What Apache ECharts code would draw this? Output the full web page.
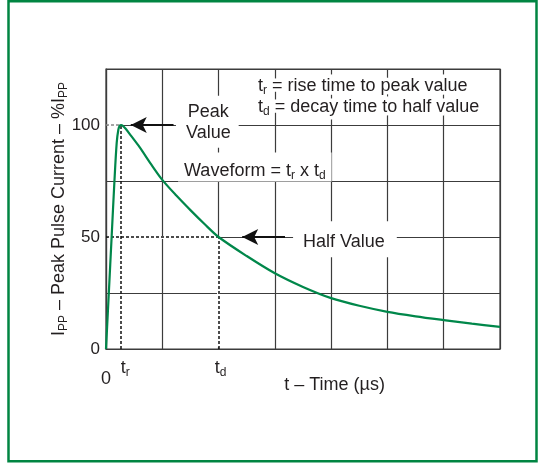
<!DOCTYPE html>
<html>
<head>
<meta charset="utf-8">
<script src="https://cdn.jsdelivr.net/npm/echarts@6/dist/echarts.min.js"></script>
<style>
html,body{margin:0;padding:0;background:#fff;}
#chart{width:543px;height:463px;}
</style>
</head>
<body>
<div id="chart"></div>
<script>
// ---- data ----
const timeUs =     [0, 0.05, 0.1, 0.15, 0.19, 0.22, 0.245, 0.27, 0.3, 0.35, 0.45, 0.6, 0.8, 1.0, 1.25, 1.5, 1.75, 2.0, 2.5, 3.0, 3.5, 4.0, 4.5, 5.0, 5.5, 6.0, 6.5, 7.0];
const currentPct = [0, 25,   50,  75,   92,   98,   99.7,  100,  99.6, 98.3, 95,   90,  82.5, 75.5, 68.5, 62, 55.8, 50, 41.5, 33.8, 27.7, 22.7, 19.3, 16.6, 14.6, 12.9, 11.3, 9.9];
const yTickLabels = [0, 50, 100];
const riseTime = 0.27;    // t_r
const decayTime = 2.0;    // t_d
const peakValue = 100;
const halfValue = 50;
const xMin = 0, xMax = 7, xStep = 1;
const yMin = 0, yMax = 125, yStep = 25;

const FONT = "'Liberation Sans', Arial, Helvetica, sans-serif";
const INK = '#231f20';
const GREEN = '#00874a';
const GRID = '#3c3c3c';

function richFor(color) {
  return {
    m: {fontSize: 18, fontFamily: FONT, color: color, lineHeight: 21},
    s: {fontSize: 12, fontFamily: FONT, color: color, lineHeight: 21, padding: [9, 0, 0, 0]}
  };
}
const rich = richFor(INK);
const richKnock = richFor('#fff');

const chart = echarts.init(document.getElementById('chart'), null, {renderer: 'canvas'});

function textPoint(coord, fmt, opts, knock) {
  return {
    coord: coord, symbol: 'rect', symbolSize: 0,
    label: Object.assign({show: true, position: 'inside', formatter: fmt, rich: knock ? richKnock : rich,
      color: knock ? '#fff' : INK, fontSize: 18, fontFamily: FONT},
      knock ? {textBorderColor: '#fff', textBorderWidth: 7} : {}, opts || {})
  };
}

const legendR = '{m|t}{s|r}{m| = rise time to peak value}';
const legendD = '{m|t}{s|d}{m| = decay time to half value}';

const option = {
  animation: false,
  backgroundColor: '#fff',
  graphic: [{
    type: 'rect', shape: {x: 8.5, y: 1.25, width: 528, height: 460},
    style: {fill: 'none', stroke: '#008542', lineWidth: 2.5}, silent: true
  }],
  grid: {left: 106, right: 43, top: 69, bottom: 114, show: true, borderColor: GRID, borderWidth: 1.2, backgroundColor: 'transparent'},
  xAxis: {
    type: 'value', min: xMin, max: xMax, interval: xStep,
    axisLine: {show: true, lineStyle: {color: GRID, width: 1.2}},
    axisTick: {show: false}, axisLabel: {show: false},
    splitLine: {show: true, lineStyle: {color: GRID, width: 1.2}}
  },
  yAxis: {
    type: 'value', min: yMin, max: yMax, interval: yStep,
    name: '{m|I}{s|PP}{m| – Peak Pulse Current – %I}{s|PP}',
    nameLocation: 'middle', nameRotate: 90, nameGap: 36, nameMoveOverlap: false,
    nameTextStyle: {rich: rich},
    axisLine: {show: true, lineStyle: {color: GRID, width: 1.2}},
    axisTick: {show: false},
    axisLabel: {
      margin: 6, fontSize: 17, fontFamily: FONT, color: INK,
      formatter: v => yTickLabels.indexOf(v) >= 0 ? String(v) : ''
    },
    splitLine: {show: true, lineStyle: {color: GRID, width: 1.2}}
  },
  series: [
    { // masks hiding the gridlines under the dotted guides
      type: 'line', data: [], z: 2, silent: true,
      markLine: {
        silent: true, symbol: ['none', 'none'], label: {show: false},
        lineStyle: {color: '#fff', width: 3, type: 'solid'},
        data: [
          [{coord: [0.03, peakValue]}, {coord: [riseTime, peakValue]}],
          [{coord: [0.03, halfValue]}, {coord: [decayTime, halfValue]}],
          [{coord: [decayTime, 0.8]}, {coord: [decayTime, halfValue]}]
        ]
      }
    },
    { // dotted guides
      type: 'line', data: [], z: 3, silent: true,
      markLine: {
        silent: true, symbol: ['none', 'none'], label: {show: false},
        lineStyle: {color: '#111', width: 1.5, type: [3, 2]},
        data: [
          [{coord: [riseTime, 0]}, {coord: [riseTime, peakValue]}],
          [{coord: [decayTime, 0]}, {coord: [decayTime, halfValue]}],
          [{coord: [0, halfValue]}, {coord: [decayTime, halfValue]}],
          [{coord: [0, peakValue], lineStyle: {color: '#888'}}, {coord: [riseTime, peakValue]}]
        ]
      }
    },
    { // knock-out halo behind legend text
      type: 'line', data: [], z: 4, silent: true,
      markPoint: {
        silent: true,
        data: [
          textPoint([2.70, 117.4], legendR, {align: 'left'}, true),
          textPoint([2.70, 108.0], legendD, {align: 'left'}, true)
        ]
      }
    },
    { // text annotations
      type: 'line', data: [], z: 5, silent: true,
      markPoint: {
        silent: true,
        data: [
          textPoint([1.80, 101.4], '{m|Peak}\n{m|Value}', {backgroundColor: '#fff', padding: [6, 8, 4, 10], align: 'center'}),
          textPoint([1.28, 81.2], '{m|Waveform = t}{s|r}{m| x t}{s|d}', {backgroundColor: '#fff', padding: [8, 6, 0, 6], align: 'left'}),
          textPoint([2.70, 117.4], legendR, {align: 'left'}),
          textPoint([2.70, 108.0], legendD, {align: 'left'}),
          textPoint([4.245, 49.0], '{m|Half Value}', {backgroundColor: '#fff', padding: [10, 12, 5, 10], align: 'center'}),
          textPoint([0, 0], '{m|0}', {offset: [0, 30]}),
          textPoint([riseTime, 0], '{m|t}{s|r}', {offset: [4, 19]}),
          textPoint([decayTime, 0], '{m|t}{s|d}', {offset: [2, 19]}),
          textPoint([4.06, 0], '{m|t – Time (µs)}', {offset: [0, 36]})
        ]
      }
    },
    { // arrows
      type: 'line', data: [], z: 6, silent: true,
      markLine: {
        silent: true, symbol: ['none', 'arrow'], symbolSize: [12, 16], label: {show: false},
        lineStyle: {color: '#111', width: 2, type: 'solid'},
        data: [
          [{coord: [1.20, peakValue]}, {coord: [0.44, peakValue]}],
          [{coord: [3.18, halfValue]}, {coord: [2.42, halfValue]}]
        ]
      }
    },
    { // waveform
      type: 'line', z: 7,
      data: timeUs.map((t, i) => [t, currentPct[i]]),
      showSymbol: false, symbol: 'none',
      smooth: 0.3,
      lineStyle: {color: GREEN, width: 2.2}
    }
  ]
};
chart.setOption(option);
</script>
</body>
</html>
